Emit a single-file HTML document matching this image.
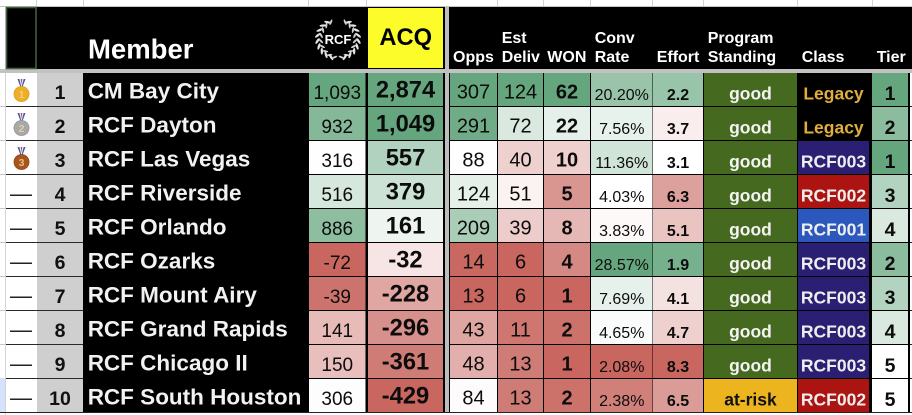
<!DOCTYPE html>
<html lang="en">
<head>
<meta charset="utf-8">
<title>RCF Member Leaderboard</title>
<style>
html,body{margin:0;padding:0;background:#fff;width:912px;height:415px;overflow:hidden}
svg{display:block;font-family:"Liberation Sans",Arial,sans-serif;filter:blur(0.35px)}
</style>
</head>
<body>
<svg id="board" width="912" height="415" viewBox="0 0 912 415" xmlns="http://www.w3.org/2000/svg"></svg>
<script>
// ---- table data ----
const ranks = [1, 2, 3, 4, 5, 6, 7, 8, 9, 10];
const members = ["CM Bay City", "RCF Dayton", "RCF Las Vegas", "RCF Riverside", "RCF Orlando", "RCF Ozarks", "RCF Mount Airy", "RCF Grand Rapids", "RCF Chicago II", "RCF South Houston"];
const rcfValues = [1093, 932, 316, 516, 886, -72, -39, 141, 150, 306];
const acqValues = [2874, 1049, 557, 379, 161, -32, -228, -296, -361, -429];
const oppsValues = [307, 291, 88, 124, 209, 14, 13, 43, 48, 84];
const delivValues = [124, 72, 40, 51, 39, 6, 6, 11, 13, 13];
const wonValues = [62, 22, 10, 5, 8, 4, 1, 2, 1, 2];
const convValues = [20.20, 7.56, 11.36, 4.03, 3.83, 28.57, 7.69, 4.65, 2.08, 2.38];
const effortValues = [2.2, 3.7, 3.1, 6.3, 5.1, 1.9, 4.1, 4.7, 8.3, 6.5];
const standings = ["good", "good", "good", "good", "good", "good", "good", "good", "good", "at-risk"];
const classes = ["Legacy", "Legacy", "RCF003", "RCF002", "RCF001", "RCF003", "RCF003", "RCF003", "RCF003", "RCF002"];
const tiers = [1, 2, 1, 3, 4, 2, 3, 4, 5, 5];

// ---- colour scale anchors: [red end, white point, green end] ----
const rcfScale = [-72, 310, 1093];
const acqScale = [-429, 50, 1049];
const oppsScale = [13, 86, 307];
const delivScale = [6, 55, 124];
const wonScale = [1, 14, 62];
const convScale = [2.08, 3.9, 28.57];
const effortScale = [8.3, 3.1, 1.75];
const tierScale = [9, 5, 1];

const svg = document.getElementById('board');
const NS = 'http://www.w3.org/2000/svg';

function node(tag, attrs, parent) {
  const n = document.createElementNS(NS, tag);
  for (const k in attrs) n.setAttribute(k, attrs[k]);
  (parent || svg).appendChild(n);
  return n;
}
function rect(x, y, w, h, fill, parent) {
  return node('rect', {x: x, y: y, width: w, height: h, fill: fill}, parent);
}
function label(str, x, y, size, weight, fill, anchor, parent) {
  const t = node('text', {x: x, y: y, 'font-size': size, 'font-weight': weight, fill: fill, 'text-anchor': anchor || 'middle'}, parent);
  t.textContent = str;
  return t;
}
function mix(a, b, t) {
  const out = [0, 1, 2].map(function (i) { return Math.round(a[i] + (b[i] - a[i]) * t); });
  return 'rgb(' + out.join(',') + ')';
}
const RED = [200, 102, 95], WHITE = [255, 255, 255], GREEN = [101, 166, 126];
function heat(v, scale) {
  const low = scale[0], mid = scale[1], high = scale[2];
  const up = (v - mid) * (high - mid) >= 0;
  const t = Math.min(1, Math.abs(up ? (v - mid) / (high - mid) : (v - mid) / (low - mid)));
  return mix(WHITE, up ? GREEN : RED, t);
}

// ---- axis functions ----
const ROW_TOP = 73, ROW_STEP = 34, ROW_H = 33;
function rowY(i) { return ROW_TOP + ROW_STEP * i; }
function commas(v) { return v.toLocaleString('en-US'); }

// ---- page frame ----
const sheetBg = rect(0, 0, 912, 415, '#ffffff');



const gridTop = node('g', {});


[36, 83, 308, 366, 497, 543, 590, 652, 703, 797, 872].forEach(function (x) {
  rect(x, 0, 1, 7, '#d4d4d4', gridTop);
});
rect(0, 6, 912, 1, '#c4c4c4', gridTop);
for (let i = 0; i < ranks.length; i++) {
  rect(0, rowY(i) + ROW_H, 6, 1, '#c8c8c8', gridTop);
}
rect(5, 7, 1, 408, '#d4d4d4', gridTop);

const rowHeaderHighlight = rect(0, 378, 5, 34, '#d3e3fd');



// ---- header ----
const headerBand = rect(6, 7, 906, 62, '#000000');



const bodyBack = rect(83, 73, 829, 340, '#000000');



const rightGutter = rect(910, 73, 2, 340, '#ffffff');


for (let i = 0; i < ranks.length; i++) {
  rect(910, rowY(i) + ROW_H, 2, 1, '#222222');
}

const headerRule = rect(0, 69, 912, 4, '#c2c2c2');



const selectedCell = rect(6.5, 7.5, 29.5, 61, '#000000');
selectedCell.setAttribute('stroke', '#3f5f38');
selectedCell.setAttribute('stroke-width', '1.6');



const memberHeader = label('Member', 88, 58.5, 27.5, 700, '#ffffff', 'start');



const acqBox = rect(368, 8, 75, 60, '#fcfc2b');


const acqHeader = label('ACQ', 405.7, 45, 23.7, 700, '#000000');



// RCF laurel logo
const logo = node('g', {});


[-1, 1].forEach(function (side) {
  for (let k = 0; k < 9; k++) {
    const a = (-62 + k * 17) * Math.PI / 180;
    const cx = 338 + side * 19 * Math.cos(a);
    const cy = 39 + 19 * Math.sin(a);
    const deg = (a * 180 / Math.PI);
    node('ellipse', {cx: cx + side * 1.6, cy: cy, rx: 3.4, ry: 1.2, fill: '#e4e4e4',
      transform: 'rotate(' + (side * (deg + 50)) + ' ' + (cx + side * 1.6) + ' ' + cy + ')'}, logo);
    node('ellipse', {cx: cx - side * 1.8, cy: cy, rx: 3, ry: 1, fill: '#cfcfcf',
      transform: 'rotate(' + (side * (deg - 50)) + ' ' + (cx - side * 1.8) + ' ' + cy + ')'}, logo);
  }
});
label('RCF', 338, 44, 13, 700, '#ffffff', 'middle', logo);

const headerDefs = [
  ['Opps', '', 453],
  ['Deliv', 'Est', 501.7],
  ['WON', '', 547.3],
  ['Rate', 'Conv', 594.7],
  ['Effort', '', 656.7],
  ['Standing', 'Program', 707.7],
  ['Class', '', 801.7],
  ['Tier', '', 876.7]
];
headerDefs.forEach(function (h) {
  const g = node('g', {});
  
  
  if (h[1]) label(h[1], h[2], 43, 16, 700, '#ffffff', 'start', g);
  label(h[0], h[2], 62, 16, 700, '#ffffff', 'start', g);
});

// vertical divider between the two table sections
const dividerLeft = rect(445, 7, 4, 406, '#bdbdbd');



// ---- helpers for heat columns ----
function heatCell(name, i, x, w, value, text, scale, size, weight, base) {
  const g = node('g', {});
  
  
  rect(x, rowY(i), w, ROW_H, heat(value, scale), g);
  label(text, x + w / 2, rowY(i) + base, size, weight, '#0c0c0c', 'middle', g);
}

// ---- body rows ----
const medalFill = ['#ecaf26', '#a8a8a8', '#a9541e'];
const medalRim = ['#d8961a', '#8f8f8f', '#8c4214'];

for (let i = 0; i < ranks.length; i++) {
  const y = rowY(i);

  // medal / dash column
  const status = node('g', {});
  
  
  rect(6, y + ROW_H, 31, 1, '#2a2a2a', status);
  if (i < 3) {
    node('path', {d: 'M17.5 ' + (y + 6) + 'l3.2 8.5h1.6l3.2-8.5z', fill: '#f0e8ea'}, status);
    node('path', {d: 'M17.5 ' + (y + 6) + 'l3.2 8.5h0.8l-2.2-8.5z', fill: '#3d56a6'}, status);
    node('path', {d: 'M25.5 ' + (y + 6) + 'l-3.2 8.5h-0.8l2.2-8.5z', fill: '#3d56a6'}, status);
    node('path', {d: 'M20.8 ' + (y + 6) + 'l0.7 6 0.7-6z', fill: '#c8404c'}, status);
    node('circle', {cx: 21.5, cy: y + 21, r: 7.6, fill: medalFill[i], stroke: medalRim[i], 'stroke-width': 0.6}, status);
    const digit = label(String(ranks[i]), 21.5, y + 25, 10.5, 700, '#f3d9a0', 'middle', status);
    digit.setAttribute('opacity', '0.8');
  } else {
    label('—', 21, y + 26, 22, 400, '#222222', 'middle', status);
  }

  // rank number
  const rankCell = node('g', {});
  
  
  rect(37, y, 46, ROW_H, '#cfcfcf', rankCell);
  rect(37, y + ROW_H, 46, 1, '#2a2a2a', rankCell);
  label(String(ranks[i]), 60, y + 26, 19.5, 700, '#111111', 'middle', rankCell);

  // member name
  const name = label(members[i], 87.7, y + 25.5, 22.5, 700, '#f2f2f2', 'start');
  
  

  heatCell('rcf-score', i, 309, 56.5, rcfValues[i], commas(rcfValues[i]), rcfScale, 19, 400, 26);
  heatCell('acq', i, 368, 75, acqValues[i], commas(acqValues[i]), acqScale, 23.7, 700, 24.7);
  heatCell('opps', i, 450, 47, oppsValues[i], String(oppsValues[i]), oppsScale, 20, 400, 25.5);
  heatCell('est-deliv', i, 498, 45, delivValues[i], String(delivValues[i]), delivScale, 20, 400, 25.5);
  heatCell('won', i, 544, 46, wonValues[i], String(wonValues[i]), wonScale, 20, 700, 25.5);
  heatCell('conv-rate', i, 591, 61.5, convValues[i], convValues[i].toFixed(2) + '%', convScale, 16, 400, 27);
  heatCell('effort', i, 653, 50, effortValues[i], effortValues[i].toFixed(1), effortScale, 16, 700, 27);

  // program standing
  const standing = node('g', {});
  
  
  const isGood = standings[i] === 'good';
  rect(704, y, 93, ROW_H, isGood ? '#45691f' : '#ecb41f', standing);
  label(standings[i], 750.5, y + 26.5, 17.5, 700, isGood ? '#f4f4f4' : '#111111', 'middle', standing);

  // class
  const klass = node('g', {});
  
  
  const c = classes[i];
  const classFill = c === 'RCF003' ? '#2a1f72' : c === 'RCF002' ? '#ac1412' : c === 'RCF001' ? '#2c57bd' : '#000000';
  rect(798, y, 71, ROW_H, classFill, klass);
  label(c, 833.5, y + 26.7, 17.5, 700, c === 'Legacy' ? '#e0ae3a' : '#eeeeee', 'middle', klass);

  // tier
  heatCell('tier', i, 872, 36, tiers[i], String(tiers[i]), tierScale, 19.5, 700, 27);
}

const bottomRule = rect(0, 412, 912, 1, '#222222');


</script>
</body>
</html>
